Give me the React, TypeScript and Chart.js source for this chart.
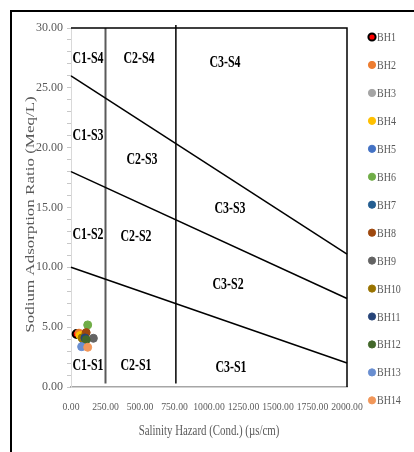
import React, { useEffect, useRef } from 'react';
import { Chart, registerables } from 'chart.js';

Chart.register(...registerables);

// ---- data ----
const wells = ['BH1', 'BH2', 'BH3', 'BH4', 'BH5', 'BH6', 'BH7', 'BH8', 'BH9', 'BH10', 'BH11', 'BH12', 'BH13', 'BH14'];
const conductivity = [41, 58, 95, 66, 92, 121, 100, 110, 162, 80, 101, 110, 77, 121];
const sarValues = [4.43, 4.5, 4.3, 4.3, 3.9, 5.19, 4.2, 4.55, 4.07, 4.1, 4.1, 3.95, 3.37, 3.32];
const wellColors = ['#FF0000', '#ED7D31', '#A5A5A5', '#FFC000', '#4472C4', '#70AD47', '#255E91', '#9E480E', '#636363', '#997300', '#264478', '#43682B', '#698ED0', '#F1975A'];
const wellBorders = ['#000000', '#ED7D31', '#A5A5A5', '#FFC000', '#4472C4', '#70AD47', '#255E91', '#9E480E', '#636363', '#997300', '#264478', '#43682B', '#698ED0', '#F1975A'];

// salinity class boundaries (vertical lines)
const salinityLimits = [250, 760];
const salinityLineBottom = [0.3, 0.3];
const salinityLineTop = [30, 30.25];

// sodium class boundaries (sloping lines), SAR at Cond = 0 and Cond = 2000
const sodiumLineCond = [0, 2000];
const sodiumLineStart = [26, 18, 10];
const sodiumLineEnd = [11.1, 7.4, 2.0];

// zone labels
const zoneNames = ['C1-S4', 'C2-S4', 'C3-S4', 'C1-S3', 'C2-S3', 'C3-S3', 'C1-S2', 'C2-S2', 'C3-S2', 'C1-S1', 'C2-S1', 'C3-S1'];
const zoneCond = [123, 493, 1116, 123, 514, 1152, 123, 471, 1138, 123, 471, 1159];
const zoneSar = [27.45, 27.45, 27.1, 21.0, 19.0, 14.9, 12.7, 12.55, 8.55, 1.75, 1.75, 1.65];

const xMin = 0;
const xMax = 2000;
const xStep = 250;
const yMin = 0;
const yMax = 30;
const yMajor = 5;

const xTitle = 'Salinity Hazard (Cond.) (\u00b5s/cm)';
const yTitle = 'Sodium Adsorption Ratio (Meq/L)';

const SERIF = '"Liberation Serif", "Times New Roman", serif';
const GREY_TEXT = '#595959';

const overlayPlugin = {
  id: 'overlay',
  afterDatasetsDraw(chart: any) {
    const { ctx, chartArea: a, scales } = chart;
    const x = scales.x;
    const y = scales.y;
    ctx.save();
    // plot border (top & right)
    ctx.strokeStyle = '#000000';
    ctx.lineWidth = 1.5;
    ctx.beginPath();
    ctx.moveTo(a.left, a.top);
    ctx.lineTo(a.right, a.top);
    ctx.lineTo(a.right, a.bottom);
    ctx.stroke();

    // zone labels
    ctx.fillStyle = '#000000';
    ctx.font = `bold 17px ${SERIF}`;
    ctx.textAlign = 'center';
    ctx.textBaseline = 'middle';
    zoneNames.forEach((t, i) => {
      const px = x.getPixelForValue(zoneCond[i]);
      const py = y.getPixelForValue(zoneSar[i]);
      ctx.save();
      ctx.translate(px, py);
      ctx.scale(0.7, 1);
      ctx.fillText(t, 0, 0);
      ctx.restore();
    });
    ctx.restore();
  },
  afterDraw(chart: any) {
    const { ctx, chartArea: a } = chart;
    ctx.save();
    // outer frame
    ctx.strokeStyle = '#000000';
    ctx.lineWidth = 2;
    ctx.strokeRect(11, 11, 800, 800);

    // y title
    ctx.fillStyle = GREY_TEXT;
    ctx.font = `17px ${SERIF}`;
    ctx.textAlign = 'center';
    ctx.textBaseline = 'middle';
    ctx.save();
    ctx.translate(31, (a.top + a.bottom) / 2 + 7);
    ctx.scale(0.68, 1);
    ctx.rotate(-Math.PI / 2);
    ctx.fillText(yTitle, 0, 0);
    ctx.restore();

    // x title
    ctx.save();
    ctx.font = `15.5px ${SERIF}`;
    ctx.translate((a.left + a.right) / 2, 431);
    ctx.scale(0.7, 1);
    ctx.fillText(xTitle, 0, 0);
    ctx.restore();

    // legend
    const lx = a.right + 25;
    const ly0 = 37;
    const step = 27.95;
    chart.data.datasets.forEach((ds: any) => {
      if (ds.legendIndex === undefined) return;
      const i = ds.legendIndex;
      const cy = ly0 + i * step;
      ctx.beginPath();
      ctx.arc(lx, cy, 3.6, 0, Math.PI * 2);
      ctx.fillStyle = ds.backgroundColor;
      ctx.fill();
      ctx.lineWidth = ds.borderWidth;
      ctx.strokeStyle = ds.borderColor;
      ctx.stroke();
      ctx.save();
      ctx.translate(lx + 5, cy);
      ctx.scale(0.74, 1);
      ctx.fillStyle = GREY_TEXT;
      ctx.font = `13.5px ${SERIF}`;
      ctx.textAlign = 'left';
      ctx.textBaseline = 'middle';
      ctx.fillText(ds.label, 0, 0.5);
      ctx.restore();
    });
    ctx.restore();
  },
};

export default function App() {
  const canvasRef = useRef<HTMLCanvasElement | null>(null);

  useEffect(() => {
    const canvas = canvasRef.current;
    if (!canvas) return;

    const lineSets: any[] = [];
    sodiumLineStart.forEach((s, i) => {
      lineSets.push({
        label: `S-boundary ${i + 1}`,
        data: [
          { x: sodiumLineCond[0], y: s },
          { x: sodiumLineCond[1], y: sodiumLineEnd[i] },
        ],
        showLine: true,
        borderColor: '#000000',
        borderWidth: 1.5,
        pointRadius: 0,
        clip: false,
        order: 100,
      });
    });
    salinityLimits.forEach((c, i) => {
      lineSets.push({
        label: `C-boundary ${i + 1}`,
        data: [
          { x: c, y: salinityLineBottom[i] },
          { x: c, y: salinityLineTop[i] },
        ],
        showLine: true,
        borderColor: i === 0 ? '#5a5a5a' : '#000000',
        borderWidth: i === 0 ? 2 : 1.5,
        pointRadius: 0,
        clip: false,
        order: 100,
      });
    });

    const pointSets = wells.map((w, i) => ({
      label: w,
      legendIndex: i,
      data: [{ x: conductivity[i], y: sarValues[i] }],
      backgroundColor: wellColors[i],
      borderColor: wellBorders[i],
      borderWidth: i === 0 ? 2 : 1,
      pointRadius: 4,
      showLine: false,
      order: wells.length - i,
    }));

    const chart = new Chart(canvas, {
      type: 'scatter',
      data: { datasets: [...lineSets, ...pointSets] },
      options: {
        animation: false,
        responsive: false,
        events: [],
        layout: { padding: { top: 28, right: 67, bottom: 0, left: 0 } },
        plugins: {
          legend: { display: false },
          tooltip: { enabled: false },
        },
        scales: {
          x: {
            type: 'linear',
            min: xMin,
            max: xMax,
            afterFit: (s: any) => {
              s.height = 65;
            },
            ticks: {
              stepSize: xStep,
              autoSkip: false,
              maxRotation: 0,
              minRotation: 0,
              padding: 15,
              color: GREY_TEXT,
              font: { family: SERIF, size: 9.7 },
              callback: (v: any) => Number(v).toFixed(2),
            },
            grid: { display: false, drawTicks: false },
            border: { display: true, color: '#a6a6a6', width: 1.5 },
          },
          y: {
            type: 'linear',
            min: yMin,
            max: yMax,
            afterFit: (s: any) => {
              s.width = 71;
            },
            ticks: {
              stepSize: 1,
              autoSkip: false,
              padding: 4,
              color: GREY_TEXT,
              font: { family: SERIF, size: 12 },
              callback: (v: any) => (Number(v) % yMajor === 0 ? Number(v).toFixed(2) : ''),
            },
            grid: { drawOnChartArea: false, tickLength: 4, color: '#c8c8c8' },
            border: { display: true, color: '#d9d9d9', width: 1 },
          },
        },
      },
      plugins: [overlayPlugin],
    } as any);

    return () => chart.destroy();
  }, []);

  return (
    <div style={{ position: 'fixed', left: 0, top: 0, width: 414, height: 452, background: '#ffffff', overflow: 'hidden' }}>
      <canvas ref={canvasRef} width={414} height={452} style={{ display: 'block', width: 414, height: 452 }} />
    </div>
  );
}
